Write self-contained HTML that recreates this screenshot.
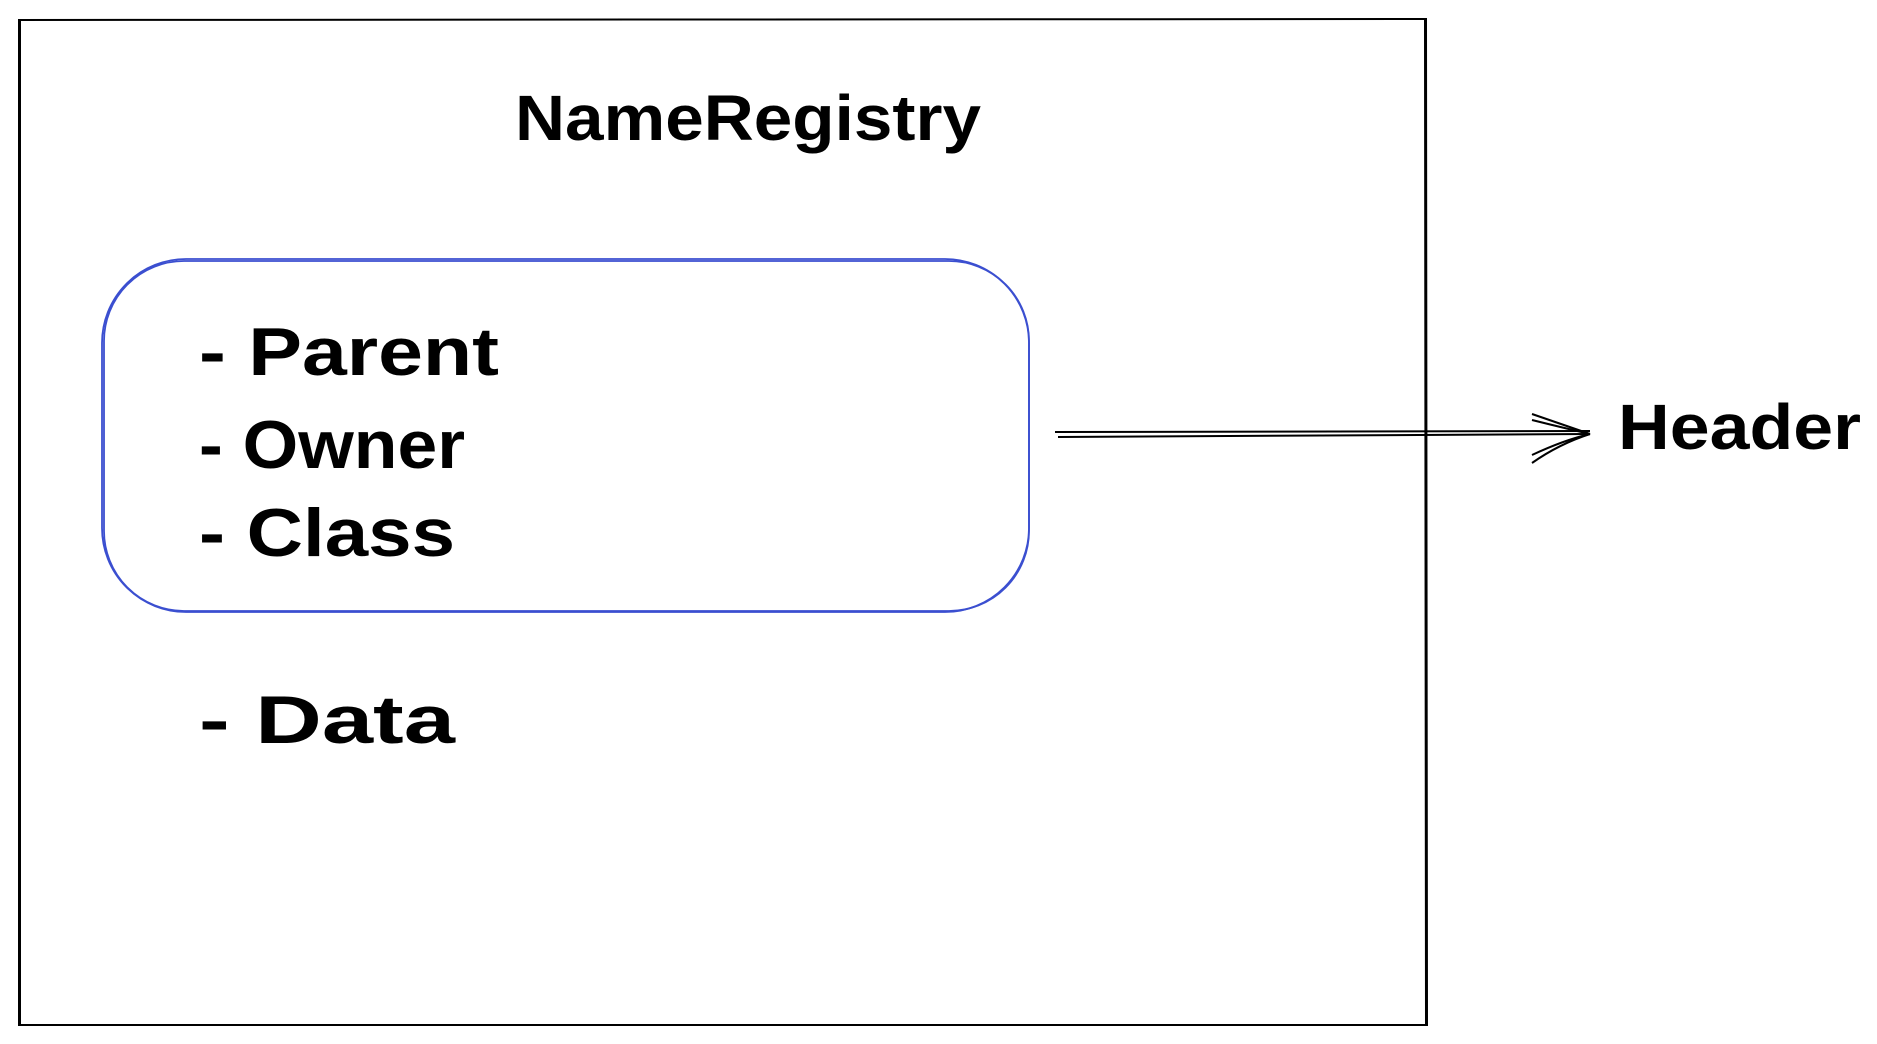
<!DOCTYPE html>
<html><head><meta charset="utf-8"><style>
html,body{margin:0;padding:0;background:#fff;width:1877px;height:1044px;overflow:hidden}
svg text{font-family:"Liberation Sans",sans-serif;font-weight:bold;fill:#000}
</style></head><body>
<svg width="1877" height="1044" viewBox="0 0 1877 1044" xmlns="http://www.w3.org/2000/svg">
<g fill="none" stroke="#000" stroke-width="2">
<path d="M19 20 L1426 19 L1427 1025 L19 1025 Z"/>
<path d="M20 19 L20 1026 M1425 20 L1426 1026"/>
</g>
<g fill="none" stroke="#3b4fd0" stroke-width="1.8">
<rect x="102" y="259" width="927" height="353" rx="84" ry="84"/>
<rect x="104" y="261" width="925" height="350" rx="80" ry="80"/>
</g>
<text x="515" y="140" font-size="64" textLength="466" lengthAdjust="spacingAndGlyphs">NameRegistry</text>
<g font-size="68">
<text x="199" y="375" textLength="300" lengthAdjust="spacingAndGlyphs">-  Parent</text>
<text x="199" y="468" textLength="266" lengthAdjust="spacingAndGlyphs">-  Owner</text>
<text x="199" y="556" textLength="256" lengthAdjust="spacingAndGlyphs">-  Class</text>
<text x="199" y="743" textLength="256" lengthAdjust="spacingAndGlyphs">-  Data</text>
</g>
<g fill="none" stroke="#000" stroke-width="2">
<path d="M1055 432 L1590 431"/>
<path d="M1058 437 L1590 434"/>
<path d="M1532 414 Q1564 425 1590 434"/>
<path d="M1532 420 Q1564 428 1590 434"/>
<path d="M1532 463 Q1559 444 1590 434"/>
<path d="M1532 455 Q1564 440 1590 434"/>
</g>
<text x="1618" y="449" font-size="64" textLength="243" lengthAdjust="spacingAndGlyphs">Header</text>
</svg>
</body></html>
